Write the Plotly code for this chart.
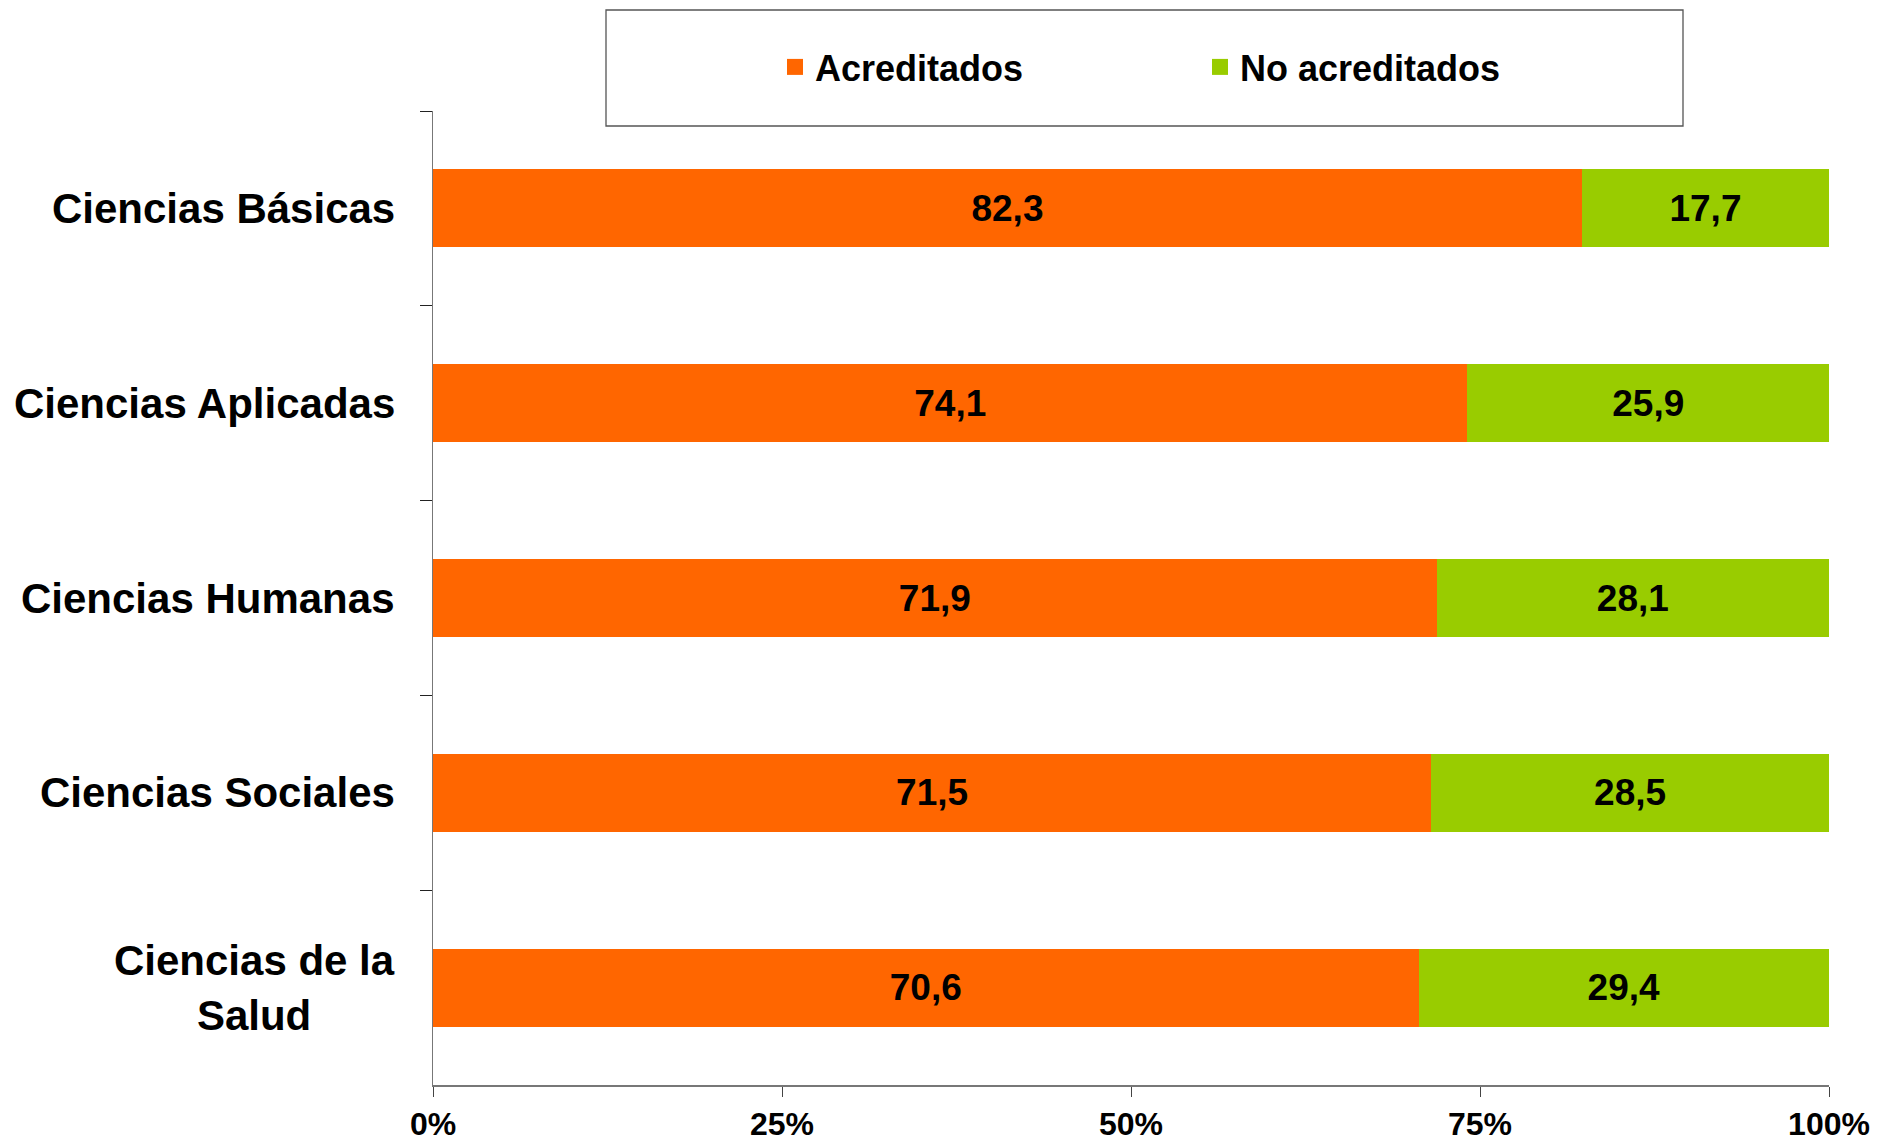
import plotly.graph_objects as go

categories = ["Ciencias Básicas", "Ciencias Aplicadas", "Ciencias Humanas",
              "Ciencias Sociales", "Ciencias de la<br>Salud"]
acreditados = [82.3, 74.1, 71.9, 71.5, 70.6]
no_acreditados = [17.7, 25.9, 28.1, 28.5, 29.4]
series_names = ["Acreditados", "No acreditados"]
x_ticks = [0, 25, 50, 75, 100]
x_tick_labels = ["0%", "25%", "50%", "75%", "100%"]

W, H = 1877, 1139
ML, MR, MT, MB = 433, 48, 111, 54
FONT = "Liberation Sans, Arial, sans-serif"
ORANGE = "#FF6600"
GREEN = "#99CC00"

def px_x(px):
    return (px - ML) / (W - ML - MR)

def px_y(py):
    return (H - MB - py) / (H - MT - MB)

fig = go.Figure()
for name, vals, col in [(series_names[0], acreditados, ORANGE),
                        (series_names[1], no_acreditados, GREEN)]:
    fig.add_trace(go.Bar(
        y=categories, x=vals, name=name, orientation="h",
        marker=dict(color=col, line=dict(width=0)),
        width=0.4,
        texttemplate="%{x:.1f}", textposition="inside",
        insidetextanchor="middle", textangle=0, constraintext="none",
        textfont=dict(family=FONT, size=37, color="black", weight="bold"),
        showlegend=False,
    ))
    fig.add_trace(go.Scatter(
        x=[None], y=[None], mode="markers", name=name,
        marker=dict(symbol="square", size=16, color=col),
    ))

for c in categories:
    fig.add_annotation(
        x=0, xref="paper", y=c, yref="y", text=c, showarrow=False,
        xanchor="right", yanchor="middle", align="center", xshift=-36,
        font=dict(family=FONT, size=42, color="black", weight="bold"),
    )

fig.add_shape(type="rect", xref="paper", yref="paper",
              x0=px_x(606), x1=px_x(1683), y0=px_y(126), y1=px_y(10),
              line=dict(color="#555555", width=1.3), fillcolor="rgba(0,0,0,0)")

fig.update_layout(
    width=W, height=H,
    margin=dict(l=ML, r=MR, t=MT, b=MB, pad=0, autoexpand=False),
    paper_bgcolor="white", plot_bgcolor="white",
    barmode="stack", separators=",.",
    font=dict(family=FONT, color="black"),
    legend=dict(
        orientation="h", xref="container", yref="container",
        traceorder="normal",
        x=775 / W, xanchor="left", y=1 - 67 / H, yanchor="middle",
        font=dict(family=FONT, size=36, color="black", weight="bold"),
        entrywidth=380, bgcolor="rgba(0,0,0,0)", borderwidth=0,
    ),
    xaxis=dict(
        range=[0, 100], tickvals=x_ticks, ticktext=x_tick_labels,
        showgrid=False, zeroline=False, automargin=False,
        showline=True, linecolor="#777777", linewidth=1.5,
        ticks="outside", ticklen=10, tickcolor="#444444", tickwidth=1,
        tickfont=dict(family=FONT, size=32, color="black", weight="bold"),
        fixedrange=True,
    ),
    yaxis=dict(
        categoryorder="array", categoryarray=categories, autorange="reversed",
        showticklabels=False, showgrid=False, zeroline=False, automargin=False,
        showline=True, linecolor="#777777", linewidth=1.3,
        ticks="outside", ticklen=12, tickcolor="#222222", tickwidth=1,
        tickson="boundaries", fixedrange=True,
    ),
)

fig.write_html("out.html", config={"displayModeBar": False},
               post_script="document.body.style.margin='0';document.body.style.overflow='hidden';")
